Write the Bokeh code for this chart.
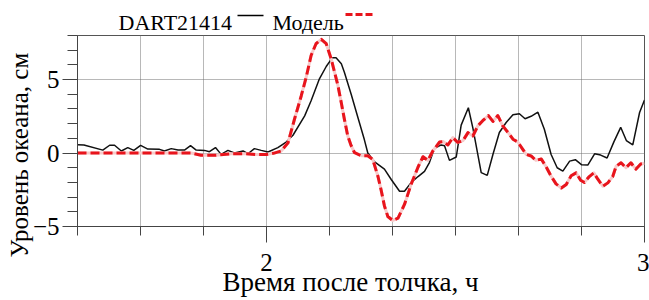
from bokeh.plotting import figure
from bokeh.layouts import column
from bokeh.models import Range1d, SingleIntervalTicker, Title
from bokeh.core.properties import value
from bokeh.embed import file_html
from bokeh.resources import INLINE

# ---- data (hours after shock, ocean level in cm) ----
obs_time = [1.500, 1.517, 1.567, 1.585, 1.598, 1.616, 1.633, 1.649, 1.667, 1.686,
            1.717, 1.730, 1.748, 1.766, 1.783, 1.799, 1.814, 1.836, 1.849, 1.865,
            1.880, 1.898, 1.915, 1.938, 1.951, 1.968, 1.986, 2.004, 2.030, 2.052,
            2.070, 2.101, 2.118, 2.140, 2.158, 2.174, 2.184, 2.198, 2.206, 2.224,
            2.242, 2.259, 2.268, 2.286, 2.312, 2.330, 2.352, 2.365, 2.383, 2.401,
            2.418, 2.431, 2.444, 2.462, 2.471, 2.484, 2.502, 2.515, 2.534, 2.546,
            2.568, 2.584, 2.599, 2.616, 2.634, 2.652, 2.669, 2.684, 2.700, 2.718,
            2.735, 2.753, 2.769, 2.784, 2.802, 2.817, 2.834, 2.850, 2.868, 2.884,
            2.901, 2.919, 2.937, 2.952, 2.969, 2.987, 3.000]
obs_level = [0.57, 0.55, 0.2, 0.53, 0.53, 0.14, 0.37, 0.18, 0.52, 0.27,
             0.25, 0.14, 0.3, 0.2, 0.2, 0.5, 0.2, 0.18, 0.09, 0.37,
             -0.09, 0.18, 0.0, 0.14, -0.05, 0.3, 0.18, 0.07, 0.37, 0.75,
             1.21, 2.53, 3.56, 5.05, 5.89, 6.48, 6.48, 6.07, 5.5, 4.0,
             2.4, 0.9, 0.0, -0.6, -1.1, -1.8, -2.6, -2.6, -2.0, -1.6,
             -1.25, -0.65, 0.3, 0.55, 0.5, -0.5, -0.27, 1.9, 3.08, 1.7,
             -1.33, -1.52, -0.1, 1.4, 2.08, 2.6, 2.67, 2.33, 2.5, 2.78,
             1.62, -0.1, -1.0, -1.23, -0.55, -0.45, -0.8, -0.82, -0.05, -0.14,
             -0.34, 0.76, 1.75, 0.85, 0.55, 2.76, 3.61]

model_time = [1.500, 1.695, 1.801, 1.827, 1.867, 1.907, 1.946, 1.973, 1.999, 2.018,
              2.039, 2.057, 2.074, 2.092, 2.105, 2.118, 2.131, 2.145, 2.158, 2.171,
              2.189, 2.198, 2.206, 2.215, 2.224, 2.233, 2.251, 2.268, 2.281, 2.295,
              2.303, 2.312, 2.321, 2.334, 2.348, 2.365, 2.383, 2.401, 2.414, 2.427,
              2.440, 2.458, 2.467, 2.480, 2.493, 2.506, 2.520, 2.533, 2.546, 2.559,
              2.572, 2.587, 2.599, 2.612, 2.625, 2.639, 2.652, 2.665, 2.678, 2.687,
              2.700, 2.713, 2.727, 2.740, 2.753, 2.766, 2.780, 2.793, 2.806, 2.819,
              2.831, 2.841, 2.854, 2.866, 2.877, 2.890, 2.903, 2.916, 2.925, 2.938,
              2.951, 2.964, 2.977, 2.990, 3.000]
model_level = [0.0, 0.0, 0.0, -0.15, -0.15, -0.05, -0.05, -0.1, -0.1, -0.02,
               0.14, 0.7, 2.3, 3.9, 5.16, 6.64, 7.44, 7.74, 7.44, 6.42,
               4.59, 3.4, 2.31, 1.16, 0.5, 0.02, -0.18, -0.18, -0.43, -1.6,
               -2.49, -3.6, -4.32, -4.59, -4.43, -3.5, -2.1, -0.95, -0.25, -0.5,
               0.14, 0.75, 0.78, 0.55, 1.05, 0.72, 0.85, 1.39, 1.16, 1.85,
               2.2, 2.55, 2.15, 2.55, 1.85, 1.4, 0.94, 0.75, 0.25, -0.09,
               -0.2, -0.5, -0.4, -0.95, -1.58, -2.1, -2.38, -2.14, -1.55, -1.35,
               -1.85, -2.0, -1.6, -1.35, -1.8, -2.26, -2.03, -1.6, -0.9, -0.66,
               -1.0, -0.66, -1.1, -0.75, -0.7]

series_names = ["DART21414", "Модель"]
x_title = "Время после толчка, ч"
y_title = "Уровень океана, см"

FONT = "Liberation Serif"
RED = "#e8141c"

# ---- legend strip (above the plot); its frame is aligned with the main frame,
# so its x range is expressed in page pixels of that frame (77..644) ----
leg = figure(width=649, height=34, x_range=(77, 644), y_range=(34, 0),
             output_backend="svg", toolbar_location=None,
             x_axis_type=None, y_axis_type=None, min_border=0)
leg.grid.visible = False
leg.outline_line_color = None
leg.text(x=[118, 272], y=[21.5, 21.5], text=series_names, text_font=value(FONT),
         text_font_size="22px", text_baseline="middle", text_color="black")
leg.line(x=[237, 263], y=[15, 15], line_color="black", line_width=1.5)
leg.line(x=[345, 374], y=[14, 14], line_color=RED, line_width=3, line_dash="7 3")

# ---- main plot ----
p = figure(width=649, height=266, output_backend="svg", toolbar_location=None,
           x_range=Range1d(1.5, 3.0), y_range=Range1d(-5, 8),
           min_border_left=77, min_border_right=5, min_border_top=1,
           min_border_bottom=74)

p.xaxis.ticker = SingleIntervalTicker(interval=1, num_minor_ticks=6)
p.yaxis.ticker = SingleIntervalTicker(interval=5, num_minor_ticks=5)
p.xgrid.ticker = SingleIntervalTicker(interval=1 / 6, num_minor_ticks=0)
p.yaxis.major_label_overrides = {-5: "−5"}

xax = p.xaxis[0]
yax = p.yaxis[0]
for ax in (xax, yax):
    ax.axis_line_color = "#444444"
    ax.major_tick_line_color = "#444444"
    ax.minor_tick_line_color = "#444444"
    ax.major_tick_in = 0
    ax.minor_tick_in = 0
    ax.major_label_text_font = FONT
    ax.major_label_text_font_size = "25px"
    ax.major_label_text_color = "black"

xax.major_tick_out = 16
xax.minor_tick_out = 9
xax.major_label_standoff = 11
yax.major_tick_out = 15
yax.minor_tick_out = 10
yax.major_label_standoff = 3

p.grid.grid_line_color = "#707070"
p.grid.grid_line_dash = "1 1"
p.grid.grid_line_width = 1
p.outline_line_color = "#555555"
p.outline_line_width = 1

p.line(obs_time, obs_level, line_color="#111111", line_width=1.5)
p.line(model_time, model_level, line_color="#f7caca", line_width=3,
       line_join="round")
p.line(model_time, model_level, line_color=RED, line_width=3,
       line_dash="9 4", line_join="round")

p.add_layout(Title(text=y_title, align="left", offset=-31, standoff=-6,
                   text_font=FONT, text_font_size="25px",
                   text_font_style="normal", text_color="black"), "left")
p.add_layout(Title(text=x_title, align="left", offset=145, standoff=-18,
                   text_font=FONT, text_font_size="27px",
                   text_font_style="normal", text_color="black"), "below")

layout = column(leg, p, spacing=0)
open("out.html", "w").write(file_html(layout, INLINE))
